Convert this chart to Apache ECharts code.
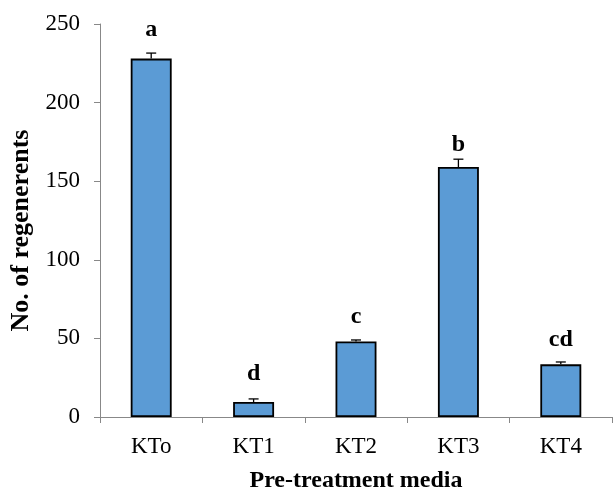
<!DOCTYPE html>
<html><head><meta charset="utf-8">
<script src="https://cdn.jsdelivr.net/npm/echarts@6/dist/echarts.min.js"></script>
<style>html,body{margin:0;padding:0;background:#fff}#c{width:614px;height:489px}</style>
</head><body><div id="c"></div>
<script>
var categories = ['KTo', 'KT1', 'KT2', 'KT3', 'KT4'];
var values = [228, 9.5, 48, 159, 33.5];
var errors = [3.5, 2, 1, 5, 1.5];
var letters = ['a', 'd', 'c', 'b', 'cd'];
var yTicks = [0, 50, 100, 150, 200, 250];

// pixel gap between error-bar cap and letter (layout only)
var letterGapPx = [11, 13, 11, 2, 10];

var chart = echarts.init(document.getElementById('c'));
var font = '"Liberation Serif", "Times New Roman", serif';
chart.setOption({
  animation: false,
  grid: {left: 100, right: 2, top: 24, bottom: 72, containLabel: false, outerBoundsMode: 'none'},
  xAxis: {
    type: 'category', data: categories,
    name: 'Pre-treatment media', nameLocation: 'middle', nameGap: 52,
    nameTextStyle: {fontFamily: font, fontSize: 24, fontWeight: 'bold', color: '#000'},
    axisLine: {lineStyle: {color: '#888', width: 1}},
    axisTick: {show: true, length: 6, lineStyle: {color: '#888'}, alignWithLabel: false},
    axisLabel: {fontFamily: font, fontSize: 23, color: '#000', margin: 18}
  },
  yAxis: {
    type: 'value', min: 0, max: 250, interval: 50,
    name: 'No. of regenerents', nameLocation: 'middle', nameGap: 64,
    nameTextStyle: {fontFamily: font, fontSize: 26, fontWeight: 'bold', color: '#000', padding: [0, 20, 0, 0]},
    axisLine: {show: true, lineStyle: {color: '#888', width: 1}},
    axisTick: {show: true, length: 6, lineStyle: {color: '#888'}},
    axisLabel: {fontFamily: font, fontSize: 23, color: '#000', margin: 20,
      formatter: function (v) { return yTicks.indexOf(v) >= 0 ? String(v) : ''; }},
    splitLine: {show: false}
  },
  series: [{
    type: 'bar', data: values, barWidth: '40%',
    itemStyle: {color: '#5B9BD5', borderColor: '#000', borderWidth: 1.8}
  }, {
    type: 'custom',
    data: values.map(function (v, i) { return [i, v, errors[i]]; }),
    renderItem: function (params, api) {
      var i = api.value(0), v = api.value(1), e = api.value(2);
      var base = api.coord([i, v]);
      var top = api.coord([i, v + e]);
      var lab = letters[params.dataIndex];
      var gap = letterGapPx[params.dataIndex];
      return {
        type: 'group',
        children: [
          {type: 'line', shape: {x1: base[0], y1: base[1], x2: top[0], y2: top[1]}, style: {stroke: '#000', lineWidth: 1.3}},
          {type: 'line', shape: {x1: top[0] - 5, y1: top[1], x2: top[0] + 5, y2: top[1]}, style: {stroke: '#000', lineWidth: 1.3}},
          {type: 'text', x: top[0], y: top[1] - gap, style: {text: lab, fill: '#000', font: 'bold 24px ' + font, align: 'center', verticalAlign: 'bottom'}}
        ]
      };
    },
    z: 10
  }]
});
</script></body></html>
